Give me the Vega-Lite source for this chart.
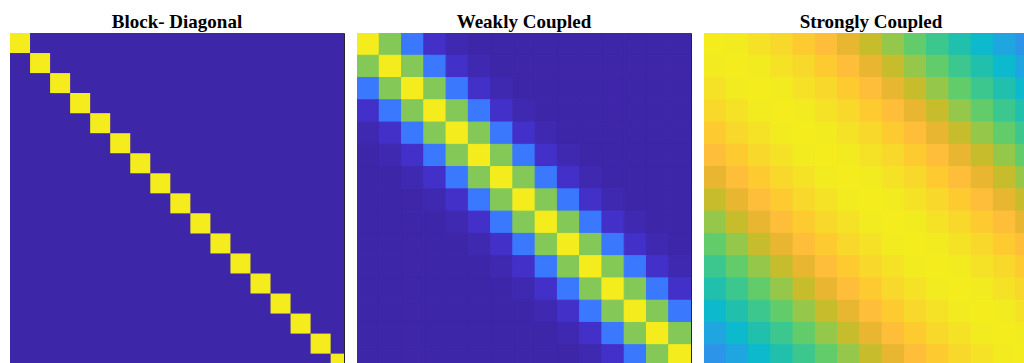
{
  "$schema": "https://vega.github.io/schema/vega-lite/v6.json",
  "background": "white",
  "padding": {"left": 9, "top": 12, "right": 0, "bottom": 0},
  "config": {
    "view": {"stroke": "#262626", "strokeWidth": 1},
    "title": {"font": "Liberation Serif", "fontSize": 19, "fontWeight": "bold", "color": "#000000", "anchor": "middle", "offset": 1},
    "concat": {"spacing": 11}
  },
  "datasets": {
    "block": [
      {"x0": 0, "x1": 50, "y0": 0, "y1": 50, "v": 0},
      {"x0": 0, "x1": 3, "y0": 0, "y1": 3, "v": 1},
      {"x0": 3, "x1": 6, "y0": 3, "y1": 6, "v": 1},
      {"x0": 6, "x1": 9, "y0": 6, "y1": 9, "v": 1},
      {"x0": 9, "x1": 12, "y0": 9, "y1": 12, "v": 1},
      {"x0": 12, "x1": 15, "y0": 12, "y1": 15, "v": 1},
      {"x0": 15, "x1": 18, "y0": 15, "y1": 18, "v": 1},
      {"x0": 18, "x1": 21, "y0": 18, "y1": 21, "v": 1},
      {"x0": 21, "x1": 24, "y0": 21, "y1": 24, "v": 1},
      {"x0": 24, "x1": 27, "y0": 24, "y1": 27, "v": 1},
      {"x0": 27, "x1": 30, "y0": 27, "y1": 30, "v": 1},
      {"x0": 30, "x1": 33, "y0": 30, "y1": 33, "v": 1},
      {"x0": 33, "x1": 36, "y0": 33, "y1": 36, "v": 1},
      {"x0": 36, "x1": 39, "y0": 36, "y1": 39, "v": 1},
      {"x0": 39, "x1": 42, "y0": 39, "y1": 42, "v": 1},
      {"x0": 42, "x1": 45, "y0": 42, "y1": 45, "v": 1},
      {"x0": 45, "x1": 48, "y0": 45, "y1": 48, "v": 1},
      {"x0": 48, "x1": 50, "y0": 48, "y1": 50, "v": 1}
    ],
    "weak": [
      {"i":0,"j":0,"v":1},{"i":0,"j":1,"v":0.65},{"i":0,"j":2,"v":0.25},{"i":0,"j":3,"v":0.05},{"i":0,"j":4,"v":0.015},{"i":0,"j":5,"v":0},{"i":0,"j":6,"v":0},{"i":0,"j":7,"v":0},{"i":0,"j":8,"v":0},{"i":0,"j":9,"v":0},{"i":0,"j":10,"v":0},{"i":0,"j":11,"v":0},{"i":0,"j":12,"v":0},{"i":0,"j":13,"v":0},{"i":0,"j":14,"v":0},
      {"i":1,"j":0,"v":0.65},{"i":1,"j":1,"v":1},{"i":1,"j":2,"v":0.65},{"i":1,"j":3,"v":0.25},{"i":1,"j":4,"v":0.05},{"i":1,"j":5,"v":0.015},{"i":1,"j":6,"v":0},{"i":1,"j":7,"v":0},{"i":1,"j":8,"v":0},{"i":1,"j":9,"v":0},{"i":1,"j":10,"v":0},{"i":1,"j":11,"v":0},{"i":1,"j":12,"v":0},{"i":1,"j":13,"v":0},{"i":1,"j":14,"v":0},
      {"i":2,"j":0,"v":0.25},{"i":2,"j":1,"v":0.65},{"i":2,"j":2,"v":1},{"i":2,"j":3,"v":0.65},{"i":2,"j":4,"v":0.25},{"i":2,"j":5,"v":0.05},{"i":2,"j":6,"v":0.015},{"i":2,"j":7,"v":0},{"i":2,"j":8,"v":0},{"i":2,"j":9,"v":0},{"i":2,"j":10,"v":0},{"i":2,"j":11,"v":0},{"i":2,"j":12,"v":0},{"i":2,"j":13,"v":0},{"i":2,"j":14,"v":0},
      {"i":3,"j":0,"v":0.05},{"i":3,"j":1,"v":0.25},{"i":3,"j":2,"v":0.65},{"i":3,"j":3,"v":1},{"i":3,"j":4,"v":0.65},{"i":3,"j":5,"v":0.25},{"i":3,"j":6,"v":0.05},{"i":3,"j":7,"v":0.015},{"i":3,"j":8,"v":0},{"i":3,"j":9,"v":0},{"i":3,"j":10,"v":0},{"i":3,"j":11,"v":0},{"i":3,"j":12,"v":0},{"i":3,"j":13,"v":0},{"i":3,"j":14,"v":0},
      {"i":4,"j":0,"v":0.015},{"i":4,"j":1,"v":0.05},{"i":4,"j":2,"v":0.25},{"i":4,"j":3,"v":0.65},{"i":4,"j":4,"v":1},{"i":4,"j":5,"v":0.65},{"i":4,"j":6,"v":0.25},{"i":4,"j":7,"v":0.05},{"i":4,"j":8,"v":0.015},{"i":4,"j":9,"v":0},{"i":4,"j":10,"v":0},{"i":4,"j":11,"v":0},{"i":4,"j":12,"v":0},{"i":4,"j":13,"v":0},{"i":4,"j":14,"v":0},
      {"i":5,"j":0,"v":0},{"i":5,"j":1,"v":0.015},{"i":5,"j":2,"v":0.05},{"i":5,"j":3,"v":0.25},{"i":5,"j":4,"v":0.65},{"i":5,"j":5,"v":1},{"i":5,"j":6,"v":0.65},{"i":5,"j":7,"v":0.25},{"i":5,"j":8,"v":0.05},{"i":5,"j":9,"v":0.015},{"i":5,"j":10,"v":0},{"i":5,"j":11,"v":0},{"i":5,"j":12,"v":0},{"i":5,"j":13,"v":0},{"i":5,"j":14,"v":0},
      {"i":6,"j":0,"v":0},{"i":6,"j":1,"v":0},{"i":6,"j":2,"v":0.015},{"i":6,"j":3,"v":0.05},{"i":6,"j":4,"v":0.25},{"i":6,"j":5,"v":0.65},{"i":6,"j":6,"v":1},{"i":6,"j":7,"v":0.65},{"i":6,"j":8,"v":0.25},{"i":6,"j":9,"v":0.05},{"i":6,"j":10,"v":0.015},{"i":6,"j":11,"v":0},{"i":6,"j":12,"v":0},{"i":6,"j":13,"v":0},{"i":6,"j":14,"v":0},
      {"i":7,"j":0,"v":0},{"i":7,"j":1,"v":0},{"i":7,"j":2,"v":0},{"i":7,"j":3,"v":0.015},{"i":7,"j":4,"v":0.05},{"i":7,"j":5,"v":0.25},{"i":7,"j":6,"v":0.65},{"i":7,"j":7,"v":1},{"i":7,"j":8,"v":0.65},{"i":7,"j":9,"v":0.25},{"i":7,"j":10,"v":0.05},{"i":7,"j":11,"v":0.015},{"i":7,"j":12,"v":0},{"i":7,"j":13,"v":0},{"i":7,"j":14,"v":0},
      {"i":8,"j":0,"v":0},{"i":8,"j":1,"v":0},{"i":8,"j":2,"v":0},{"i":8,"j":3,"v":0},{"i":8,"j":4,"v":0.015},{"i":8,"j":5,"v":0.05},{"i":8,"j":6,"v":0.25},{"i":8,"j":7,"v":0.65},{"i":8,"j":8,"v":1},{"i":8,"j":9,"v":0.65},{"i":8,"j":10,"v":0.25},{"i":8,"j":11,"v":0.05},{"i":8,"j":12,"v":0.015},{"i":8,"j":13,"v":0},{"i":8,"j":14,"v":0},
      {"i":9,"j":0,"v":0},{"i":9,"j":1,"v":0},{"i":9,"j":2,"v":0},{"i":9,"j":3,"v":0},{"i":9,"j":4,"v":0},{"i":9,"j":5,"v":0.015},{"i":9,"j":6,"v":0.05},{"i":9,"j":7,"v":0.25},{"i":9,"j":8,"v":0.65},{"i":9,"j":9,"v":1},{"i":9,"j":10,"v":0.65},{"i":9,"j":11,"v":0.25},{"i":9,"j":12,"v":0.05},{"i":9,"j":13,"v":0.015},{"i":9,"j":14,"v":0},
      {"i":10,"j":0,"v":0},{"i":10,"j":1,"v":0},{"i":10,"j":2,"v":0},{"i":10,"j":3,"v":0},{"i":10,"j":4,"v":0},{"i":10,"j":5,"v":0},{"i":10,"j":6,"v":0.015},{"i":10,"j":7,"v":0.05},{"i":10,"j":8,"v":0.25},{"i":10,"j":9,"v":0.65},{"i":10,"j":10,"v":1},{"i":10,"j":11,"v":0.65},{"i":10,"j":12,"v":0.25},{"i":10,"j":13,"v":0.05},{"i":10,"j":14,"v":0.015},
      {"i":11,"j":0,"v":0},{"i":11,"j":1,"v":0},{"i":11,"j":2,"v":0},{"i":11,"j":3,"v":0},{"i":11,"j":4,"v":0},{"i":11,"j":5,"v":0},{"i":11,"j":6,"v":0},{"i":11,"j":7,"v":0.015},{"i":11,"j":8,"v":0.05},{"i":11,"j":9,"v":0.25},{"i":11,"j":10,"v":0.65},{"i":11,"j":11,"v":1},{"i":11,"j":12,"v":0.65},{"i":11,"j":13,"v":0.25},{"i":11,"j":14,"v":0.05},
      {"i":12,"j":0,"v":0},{"i":12,"j":1,"v":0},{"i":12,"j":2,"v":0},{"i":12,"j":3,"v":0},{"i":12,"j":4,"v":0},{"i":12,"j":5,"v":0},{"i":12,"j":6,"v":0},{"i":12,"j":7,"v":0},{"i":12,"j":8,"v":0.015},{"i":12,"j":9,"v":0.05},{"i":12,"j":10,"v":0.25},{"i":12,"j":11,"v":0.65},{"i":12,"j":12,"v":1},{"i":12,"j":13,"v":0.65},{"i":12,"j":14,"v":0.25},
      {"i":13,"j":0,"v":0},{"i":13,"j":1,"v":0},{"i":13,"j":2,"v":0},{"i":13,"j":3,"v":0},{"i":13,"j":4,"v":0},{"i":13,"j":5,"v":0},{"i":13,"j":6,"v":0},{"i":13,"j":7,"v":0},{"i":13,"j":8,"v":0},{"i":13,"j":9,"v":0.015},{"i":13,"j":10,"v":0.05},{"i":13,"j":11,"v":0.25},{"i":13,"j":12,"v":0.65},{"i":13,"j":13,"v":1},{"i":13,"j":14,"v":0.65},
      {"i":14,"j":0,"v":0},{"i":14,"j":1,"v":0},{"i":14,"j":2,"v":0},{"i":14,"j":3,"v":0},{"i":14,"j":4,"v":0},{"i":14,"j":5,"v":0},{"i":14,"j":6,"v":0},{"i":14,"j":7,"v":0},{"i":14,"j":8,"v":0},{"i":14,"j":9,"v":0},{"i":14,"j":10,"v":0.015},{"i":14,"j":11,"v":0.05},{"i":14,"j":12,"v":0.25},{"i":14,"j":13,"v":0.65},{"i":14,"j":14,"v":1}
    ],
    "strong": [
      {"i":0,"j":0,"v":1},{"i":0,"j":1,"v":0.98},{"i":0,"j":2,"v":0.95},{"i":0,"j":3,"v":0.92},{"i":0,"j":4,"v":0.88},{"i":0,"j":5,"v":0.84},{"i":0,"j":6,"v":0.79},{"i":0,"j":7,"v":0.74},{"i":0,"j":8,"v":0.68},{"i":0,"j":9,"v":0.6},{"i":0,"j":10,"v":0.55},{"i":0,"j":11,"v":0.5},{"i":0,"j":12,"v":0.46},{"i":0,"j":13,"v":0.4},{"i":0,"j":14,"v":0.35},
      {"i":1,"j":0,"v":0.98},{"i":1,"j":1,"v":1},{"i":1,"j":2,"v":0.98},{"i":1,"j":3,"v":0.95},{"i":1,"j":4,"v":0.92},{"i":1,"j":5,"v":0.88},{"i":1,"j":6,"v":0.84},{"i":1,"j":7,"v":0.79},{"i":1,"j":8,"v":0.74},{"i":1,"j":9,"v":0.68},{"i":1,"j":10,"v":0.6},{"i":1,"j":11,"v":0.55},{"i":1,"j":12,"v":0.5},{"i":1,"j":13,"v":0.46},{"i":1,"j":14,"v":0.4},
      {"i":2,"j":0,"v":0.95},{"i":2,"j":1,"v":0.98},{"i":2,"j":2,"v":1},{"i":2,"j":3,"v":0.98},{"i":2,"j":4,"v":0.95},{"i":2,"j":5,"v":0.92},{"i":2,"j":6,"v":0.88},{"i":2,"j":7,"v":0.84},{"i":2,"j":8,"v":0.79},{"i":2,"j":9,"v":0.74},{"i":2,"j":10,"v":0.68},{"i":2,"j":11,"v":0.6},{"i":2,"j":12,"v":0.55},{"i":2,"j":13,"v":0.5},{"i":2,"j":14,"v":0.46},
      {"i":3,"j":0,"v":0.92},{"i":3,"j":1,"v":0.95},{"i":3,"j":2,"v":0.98},{"i":3,"j":3,"v":1},{"i":3,"j":4,"v":0.98},{"i":3,"j":5,"v":0.95},{"i":3,"j":6,"v":0.92},{"i":3,"j":7,"v":0.88},{"i":3,"j":8,"v":0.84},{"i":3,"j":9,"v":0.79},{"i":3,"j":10,"v":0.74},{"i":3,"j":11,"v":0.68},{"i":3,"j":12,"v":0.6},{"i":3,"j":13,"v":0.55},{"i":3,"j":14,"v":0.5},
      {"i":4,"j":0,"v":0.88},{"i":4,"j":1,"v":0.92},{"i":4,"j":2,"v":0.95},{"i":4,"j":3,"v":0.98},{"i":4,"j":4,"v":1},{"i":4,"j":5,"v":0.98},{"i":4,"j":6,"v":0.95},{"i":4,"j":7,"v":0.92},{"i":4,"j":8,"v":0.88},{"i":4,"j":9,"v":0.84},{"i":4,"j":10,"v":0.79},{"i":4,"j":11,"v":0.74},{"i":4,"j":12,"v":0.68},{"i":4,"j":13,"v":0.6},{"i":4,"j":14,"v":0.55},
      {"i":5,"j":0,"v":0.84},{"i":5,"j":1,"v":0.88},{"i":5,"j":2,"v":0.92},{"i":5,"j":3,"v":0.95},{"i":5,"j":4,"v":0.98},{"i":5,"j":5,"v":1},{"i":5,"j":6,"v":0.98},{"i":5,"j":7,"v":0.95},{"i":5,"j":8,"v":0.92},{"i":5,"j":9,"v":0.88},{"i":5,"j":10,"v":0.84},{"i":5,"j":11,"v":0.79},{"i":5,"j":12,"v":0.74},{"i":5,"j":13,"v":0.68},{"i":5,"j":14,"v":0.6},
      {"i":6,"j":0,"v":0.79},{"i":6,"j":1,"v":0.84},{"i":6,"j":2,"v":0.88},{"i":6,"j":3,"v":0.92},{"i":6,"j":4,"v":0.95},{"i":6,"j":5,"v":0.98},{"i":6,"j":6,"v":1},{"i":6,"j":7,"v":0.98},{"i":6,"j":8,"v":0.95},{"i":6,"j":9,"v":0.92},{"i":6,"j":10,"v":0.88},{"i":6,"j":11,"v":0.84},{"i":6,"j":12,"v":0.79},{"i":6,"j":13,"v":0.74},{"i":6,"j":14,"v":0.68},
      {"i":7,"j":0,"v":0.74},{"i":7,"j":1,"v":0.79},{"i":7,"j":2,"v":0.84},{"i":7,"j":3,"v":0.88},{"i":7,"j":4,"v":0.92},{"i":7,"j":5,"v":0.95},{"i":7,"j":6,"v":0.98},{"i":7,"j":7,"v":1},{"i":7,"j":8,"v":0.98},{"i":7,"j":9,"v":0.95},{"i":7,"j":10,"v":0.92},{"i":7,"j":11,"v":0.88},{"i":7,"j":12,"v":0.84},{"i":7,"j":13,"v":0.79},{"i":7,"j":14,"v":0.74},
      {"i":8,"j":0,"v":0.68},{"i":8,"j":1,"v":0.74},{"i":8,"j":2,"v":0.79},{"i":8,"j":3,"v":0.84},{"i":8,"j":4,"v":0.88},{"i":8,"j":5,"v":0.92},{"i":8,"j":6,"v":0.95},{"i":8,"j":7,"v":0.98},{"i":8,"j":8,"v":1},{"i":8,"j":9,"v":0.98},{"i":8,"j":10,"v":0.95},{"i":8,"j":11,"v":0.92},{"i":8,"j":12,"v":0.88},{"i":8,"j":13,"v":0.84},{"i":8,"j":14,"v":0.79},
      {"i":9,"j":0,"v":0.6},{"i":9,"j":1,"v":0.68},{"i":9,"j":2,"v":0.74},{"i":9,"j":3,"v":0.79},{"i":9,"j":4,"v":0.84},{"i":9,"j":5,"v":0.88},{"i":9,"j":6,"v":0.92},{"i":9,"j":7,"v":0.95},{"i":9,"j":8,"v":0.98},{"i":9,"j":9,"v":1},{"i":9,"j":10,"v":0.98},{"i":9,"j":11,"v":0.95},{"i":9,"j":12,"v":0.92},{"i":9,"j":13,"v":0.88},{"i":9,"j":14,"v":0.84},
      {"i":10,"j":0,"v":0.55},{"i":10,"j":1,"v":0.6},{"i":10,"j":2,"v":0.68},{"i":10,"j":3,"v":0.74},{"i":10,"j":4,"v":0.79},{"i":10,"j":5,"v":0.84},{"i":10,"j":6,"v":0.88},{"i":10,"j":7,"v":0.92},{"i":10,"j":8,"v":0.95},{"i":10,"j":9,"v":0.98},{"i":10,"j":10,"v":1},{"i":10,"j":11,"v":0.98},{"i":10,"j":12,"v":0.95},{"i":10,"j":13,"v":0.92},{"i":10,"j":14,"v":0.88},
      {"i":11,"j":0,"v":0.5},{"i":11,"j":1,"v":0.55},{"i":11,"j":2,"v":0.6},{"i":11,"j":3,"v":0.68},{"i":11,"j":4,"v":0.74},{"i":11,"j":5,"v":0.79},{"i":11,"j":6,"v":0.84},{"i":11,"j":7,"v":0.88},{"i":11,"j":8,"v":0.92},{"i":11,"j":9,"v":0.95},{"i":11,"j":10,"v":0.98},{"i":11,"j":11,"v":1},{"i":11,"j":12,"v":0.98},{"i":11,"j":13,"v":0.95},{"i":11,"j":14,"v":0.92},
      {"i":12,"j":0,"v":0.46},{"i":12,"j":1,"v":0.5},{"i":12,"j":2,"v":0.55},{"i":12,"j":3,"v":0.6},{"i":12,"j":4,"v":0.68},{"i":12,"j":5,"v":0.74},{"i":12,"j":6,"v":0.79},{"i":12,"j":7,"v":0.84},{"i":12,"j":8,"v":0.88},{"i":12,"j":9,"v":0.92},{"i":12,"j":10,"v":0.95},{"i":12,"j":11,"v":0.98},{"i":12,"j":12,"v":1},{"i":12,"j":13,"v":0.98},{"i":12,"j":14,"v":0.95},
      {"i":13,"j":0,"v":0.4},{"i":13,"j":1,"v":0.46},{"i":13,"j":2,"v":0.5},{"i":13,"j":3,"v":0.55},{"i":13,"j":4,"v":0.6},{"i":13,"j":5,"v":0.68},{"i":13,"j":6,"v":0.74},{"i":13,"j":7,"v":0.79},{"i":13,"j":8,"v":0.84},{"i":13,"j":9,"v":0.88},{"i":13,"j":10,"v":0.92},{"i":13,"j":11,"v":0.95},{"i":13,"j":12,"v":0.98},{"i":13,"j":13,"v":1},{"i":13,"j":14,"v":0.98},
      {"i":14,"j":0,"v":0.35},{"i":14,"j":1,"v":0.4},{"i":14,"j":2,"v":0.46},{"i":14,"j":3,"v":0.5},{"i":14,"j":4,"v":0.55},{"i":14,"j":5,"v":0.6},{"i":14,"j":6,"v":0.68},{"i":14,"j":7,"v":0.74},{"i":14,"j":8,"v":0.79},{"i":14,"j":9,"v":0.84},{"i":14,"j":10,"v":0.88},{"i":14,"j":11,"v":0.92},{"i":14,"j":12,"v":0.95},{"i":14,"j":13,"v":0.98},{"i":14,"j":14,"v":1}
    ]
  },
  "hconcat": [
    {
      "title": "Block- Diagonal",
      "width": 334,
      "height": 334,
      "data": {"name": "block"},
      "mark": {"type": "rect", "clip": true, "strokeWidth": 0},
      "encoding": {
        "x": {"field": "x0", "type": "quantitative", "scale": {"domain": [0, 50], "nice": false, "zero": false}, "axis": null},
        "x2": {"field": "x1"},
        "y": {"field": "y0", "type": "quantitative", "scale": {"domain": [0, 50], "nice": false, "zero": false, "reverse": true}, "axis": null},
        "y2": {"field": "y1"},
        "color": {
          "field": "v", "type": "quantitative", "legend": null,
          "scale": {
            "domain": [0, 0.05, 0.143, 0.25, 0.286, 0.35, 0.4, 0.429, 0.46, 0.5, 0.55, 0.6, 0.65, 0.68, 0.74, 0.79, 0.84, 0.88, 0.92, 0.95, 0.98, 1],
            "range": ["#3e26a8", "#4230c8", "#4852f4", "#3a78fe", "#2e87f7", "#2c95ea", "#1fa6e0", "#12b1d6", "#0db9cc", "#20c0ac", "#3cc78e", "#62cc6a", "#84c857", "#95c84a", "#c7bd2c", "#e8b630", "#febe39", "#fdcb2f", "#f8d82a", "#f5e226", "#f2eb1f", "#f4ec1d"]
          }
        }
      }
    },
    {
      "title": "Weakly Coupled",
      "width": 334,
      "height": 334,
      "data": {"name": "weak"},
      "mark": {"type": "rect", "strokeWidth": 1, "clip": true},
      "encoding": {
        "x": {"field": "j", "type": "ordinal", "scale": {"paddingInner": 0, "paddingOuter": 0}, "axis": null},
        "y": {"field": "i", "type": "ordinal", "scale": {"paddingInner": 0, "paddingOuter": 0}, "axis": null},
        "color": {
          "field": "v", "type": "quantitative", "legend": null,
          "scale": {
            "domain": [0, 0.05, 0.143, 0.25, 0.286, 0.35, 0.4, 0.429, 0.46, 0.5, 0.55, 0.6, 0.65, 0.68, 0.74, 0.79, 0.84, 0.88, 0.92, 0.95, 0.98, 1],
            "range": ["#3e26a8", "#4230c8", "#4852f4", "#3a78fe", "#2e87f7", "#2c95ea", "#1fa6e0", "#12b1d6", "#0db9cc", "#20c0ac", "#3cc78e", "#62cc6a", "#84c857", "#95c84a", "#c7bd2c", "#e8b630", "#febe39", "#fdcb2f", "#f8d82a", "#f5e226", "#f2eb1f", "#f4ec1d"]
          }
        },
        "stroke": {
          "field": "v", "type": "quantitative", "legend": null,
          "scale": {
            "domain": [0, 0.05, 0.143, 0.25, 0.286, 0.35, 0.4, 0.429, 0.46, 0.5, 0.55, 0.6, 0.65, 0.68, 0.74, 0.79, 0.84, 0.88, 0.92, 0.95, 0.98, 1],
            "range": ["#3e26a8", "#4230c8", "#4852f4", "#3a78fe", "#2e87f7", "#2c95ea", "#1fa6e0", "#12b1d6", "#0db9cc", "#20c0ac", "#3cc78e", "#62cc6a", "#84c857", "#95c84a", "#c7bd2c", "#e8b630", "#febe39", "#fdcb2f", "#f8d82a", "#f5e226", "#f2eb1f", "#f4ec1d"]
          }
        }
      }
    },
    {
      "title": "Strongly Coupled",
      "width": 334,
      "height": 334,
      "data": {"name": "strong"},
      "mark": {"type": "rect", "strokeWidth": 1, "clip": true},
      "encoding": {
        "x": {"field": "j", "type": "ordinal", "scale": {"paddingInner": 0, "paddingOuter": 0}, "axis": null},
        "y": {"field": "i", "type": "ordinal", "scale": {"paddingInner": 0, "paddingOuter": 0}, "axis": null},
        "color": {
          "field": "v", "type": "quantitative", "legend": null,
          "scale": {
            "domain": [0, 0.05, 0.143, 0.25, 0.286, 0.35, 0.4, 0.429, 0.46, 0.5, 0.55, 0.6, 0.65, 0.68, 0.74, 0.79, 0.84, 0.88, 0.92, 0.95, 0.98, 1],
            "range": ["#3e26a8", "#4230c8", "#4852f4", "#3a78fe", "#2e87f7", "#2c95ea", "#1fa6e0", "#12b1d6", "#0db9cc", "#20c0ac", "#3cc78e", "#62cc6a", "#84c857", "#95c84a", "#c7bd2c", "#e8b630", "#febe39", "#fdcb2f", "#f8d82a", "#f5e226", "#f2eb1f", "#f4ec1d"]
          }
        },
        "stroke": {
          "field": "v", "type": "quantitative", "legend": null,
          "scale": {
            "domain": [0, 0.05, 0.143, 0.25, 0.286, 0.35, 0.4, 0.429, 0.46, 0.5, 0.55, 0.6, 0.65, 0.68, 0.74, 0.79, 0.84, 0.88, 0.92, 0.95, 0.98, 1],
            "range": ["#3e26a8", "#4230c8", "#4852f4", "#3a78fe", "#2e87f7", "#2c95ea", "#1fa6e0", "#12b1d6", "#0db9cc", "#20c0ac", "#3cc78e", "#62cc6a", "#84c857", "#95c84a", "#c7bd2c", "#e8b630", "#febe39", "#fdcb2f", "#f8d82a", "#f5e226", "#f2eb1f", "#f4ec1d"]
          }
        }
      }
    }
  ]
}
